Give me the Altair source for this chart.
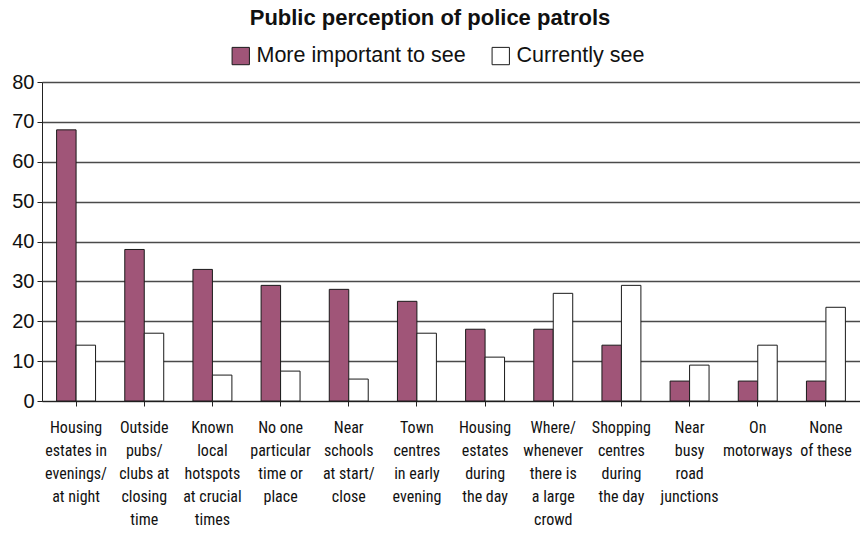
import altair as alt
import pandas as pd

categories = [
    "Housing|estates in|evenings/|at night",
    "Outside|pubs/|clubs at|closing|time",
    "Known|local|hotspots|at crucial|times",
    "No one|particular|time or|place",
    "Near|schools|at start/|close",
    "Town|centres|in early|evening",
    "Housing|estates|during|the day",
    "Where/|whenever|there is|a large|crowd",
    "Shopping|centres|during|the day",
    "Near|busy|road|junctions",
    "On|motorways",
    "None|of these",
]
more_important = [68, 38, 33, 29, 28, 25, 18, 18, 14, 5, 5, 5]
currently_see = [14, 17, 6.5, 7.5, 5.5, 17, 11, 27, 29, 9, 14, 23.5]
series = ["More important to see", "Currently see"]

rows = []
for c, a, b in zip(categories, more_important, currently_see):
    rows.append({"cat": c, "series": series[0], "value": a})
    rows.append({"cat": c, "series": series[1], "value": b})
df = pd.DataFrame(rows)

narrow = "Liberation Sans Narrow, Arial Narrow, Roboto Condensed, DejaVu Sans Condensed, Liberation Sans"

chart = alt.Chart(df).mark_bar(stroke="#1a1a1a", strokeWidth=1).encode(
    x=alt.X("cat:N", sort=categories, title=None,
            scale=alt.Scale(paddingInner=0, paddingOuter=0),
            axis=alt.Axis(labelAngle=0, labelExpr="split(datum.label, '|')",
                          labelFont=narrow, labelFontSize=16, labelColor="#111",
                          labelLineHeight=23, labelPadding=13, labelBaseline="top",
                          labelLimit=0,
                          tickColor="#222", tickSize=5, domainColor="#222",
                          domainWidth=1, grid=False)),
    xOffset=alt.XOffset("series:N", sort=series,
                        scale=alt.Scale(paddingInner=0, paddingOuter=0.75)),
    y=alt.Y("value:Q", title=None,
            scale=alt.Scale(domain=[0, 80]),
            axis=alt.Axis(values=list(range(0, 81, 10)), labelFont="Liberation Sans",
                          labelFontSize=20, labelColor="#111", labelPadding=3,
                          tickSize=5, tickColor="#222", domainColor="#222",
                          gridColor="#4a4a4a", gridWidth=1.5)),
    color=alt.Color("series:N", sort=series,
                    scale=alt.Scale(domain=series, range=["#A05578", "#FFFFFF"]),
                    legend=alt.Legend(title=None, orient="none", direction="horizontal",
                                      legendX=188, legendY=-37,
                                      symbolType="square", symbolSize=300,
                                      symbolStrokeColor="#1a1a1a", symbolStrokeWidth=1,
                                      labelFont="Liberation Sans", labelFontSize=21.5,
                                      labelColor="#111", columnPadding=24,
                                      labelOffset=5,
                                      labelLimit=0, symbolOpacity=1)),
).properties(
    width=818, height=319,
    title=alt.Title("Public perception of police patrols", font="Liberation Sans",
                    fontSize=22, fontWeight="bold", color="#111", anchor="middle",
                    offset=15, dx=-21),
    padding={"left": 42, "top": 82, "right": 0, "bottom": 140},
    autosize="none",
).configure_view(fill="#D3D4D6", stroke=None).configure(background="white")

chart.save("out.html", embed_options={"renderer": "svg", "actions": False})
